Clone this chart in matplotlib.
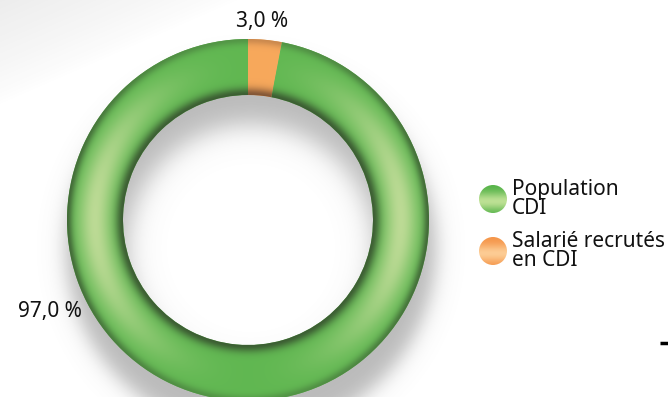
import numpy as np
import matplotlib
matplotlib.use('Agg')
import matplotlib.pyplot as plt
from matplotlib.patches import Circle

# Share of permanent contracts
labels = ['Population\nCDI', 'Salarié recrutés\nen CDI']
shares = [97.0, 3.0]
value_labels = ['97,0 %', '3,0 %']

W, H = 668, 397
CX, CY = 248, 220          # ring centre (pixels, from top)
R_OUT, R_IN = 181, 125

plt.rcParams['font.family'] = ['Noto Sans', 'DejaVu Sans']

fig = plt.figure(figsize=(W / 100, H / 100), dpi=100)
ax = fig.add_axes([0, 0, 1, 1])
ax.set_axis_off()

# pixel grid used for the shading textures
yy, xx = np.mgrid[0:H, 0:W] + 0.5
dx = xx - CX
dy = yy - CY
rr = np.hypot(dx, dy)
theta = np.arctan2(-dy, dx)
t = np.clip((rr - R_IN) / (R_OUT - R_IN), 0, 1)

# soft grey haze in the upper-left corner
d = xx / 240 + yy / 105
haze = np.zeros((H, W, 4))
haze[..., :3] = 0.55
haze[..., 3] = 0.16 * np.clip(1 - d, 0, 1) ** 0.8
ax.imshow(haze, extent=(0, W, 0, H), origin='upper', zorder=0)

# drop shadow of the ring, pushed down and blurred
rs = np.hypot(xx - CX - 3, yy - CY - 28)
sh = 0.5 * (1 + np.tanh((rs - R_IN + 2) / 16)) * 0.5 * (1 + np.tanh((R_OUT + 4 - rs) / 12))
shadow = np.zeros((H, W, 4))
shadow[..., :3] = 0.48
shadow[..., 3] = 0.52 * sh
ax.imshow(shadow, extent=(0, W, 0, H), origin='upper', zorder=1)


def ring_texture(base, light, dark, hl_gain):
    side = np.abs(np.cos(theta)) ** 2
    hl = hl_gain * side * np.exp(-((t - 0.5) / 0.30) ** 2)
    col = base[None, None, :] * (1 - hl[..., None]) + light[None, None, :] * hl[..., None]
    edge = 0.80 * np.exp(-(t / 0.13) ** 2) + (0.30 + 0.40 * side) * np.exp(-((1 - t) / 0.10) ** 2)
    col = col * (1 - edge[..., None]) + dark[None, None, :] * edge[..., None]
    return np.clip(col, 0, 1)


green = ring_texture(np.array([0.38, 0.72, 0.32]), np.array([0.80, 0.88, 0.63]),
                     np.array([0.20, 0.28, 0.17]), 0.85)
orange = ring_texture(np.array([0.97, 0.66, 0.36]), np.array([0.99, 0.78, 0.50]),
                      np.array([0.40, 0.26, 0.18]), 0.3)

wedges, _ = ax.pie(shares[::-1], radius=R_OUT, center=(CX, H - CY), startangle=90,
                   counterclock=False, colors=['#f6a85a', '#63b852'],
                   wedgeprops=dict(width=R_OUT - R_IN, linewidth=0))
for w in wedges:
    w.set_zorder(2)
for w, tex in zip(wedges, [orange, green]):
    im = ax.imshow(tex, extent=(0, W, 0, H), origin='upper', zorder=3)
    im.set_clip_path(w)

# value labels
ax.text(262, H - 22, value_labels[1], fontsize=15, ha='center', va='center', color='#111111', zorder=5)
ax.text(50, H - 312, value_labels[0], fontsize=15, ha='center', va='center', color='#111111', zorder=5)

# legend with shaded dots
leg_y = [199, 251]
leg_cols = [(np.array([0.33, 0.70, 0.28]), np.array([0.74, 0.88, 0.58])),
            (np.array([0.96, 0.58, 0.28]), np.array([0.99, 0.80, 0.58]))]
for lab, ly, (c_edge, c_mid) in zip(labels, leg_y, leg_cols):
    circ = Circle((493, H - ly), 14, facecolor='none', edgecolor='none', zorder=4)
    ax.add_patch(circ)
    g = np.linspace(-1, 1, 64)
    k = np.exp(-((g - 0.15) / 0.6) ** 2)
    grad = c_edge[None, :] * (1 - k[:, None]) + c_mid[None, :] * k[:, None]
    grad = np.repeat(grad[:, None, :], 2, axis=1)
    im = ax.imshow(grad, extent=(478, 508, H - ly - 15, H - ly + 15), origin='upper', zorder=4)
    im.set_clip_path(circ)
    ax.text(512, H - ly, lab, fontsize=15, ha='left', va='center', linespacing=0.92,
            color='#111111', zorder=5)

ax.set_xlim(0, W)
ax.set_ylim(0, H)
ax.set_aspect('auto')

# small dash at the right edge
ax.plot([660, 668], [H - 343, H - 343], color='black', linewidth=2.5, solid_capstyle='butt', zorder=5)

fig.savefig('out.png', dpi=100)
